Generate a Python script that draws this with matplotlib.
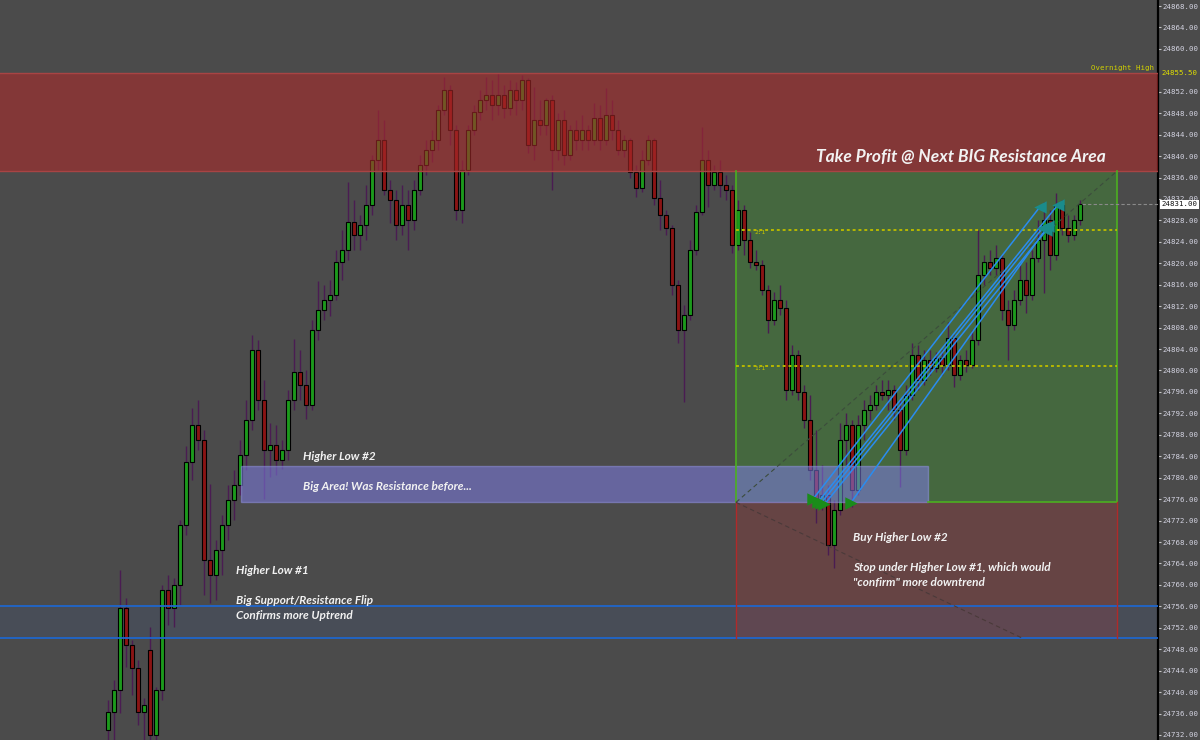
import matplotlib
matplotlib.use("Agg")
import matplotlib.pyplot as plt
from matplotlib.patches import Rectangle
import matplotlib.transforms as mtransforms

# ---------------- data ----------------
opens = [24732.9, 24736.3, 24740.4, 24755.7, 24748.8, 24744.5, 24736.3, 24747.8, 24732.0, 24740.4,
         24759.0, 24755.7, 24760.0, 24771.1, 24782.9, 24789.8, 24787.0, 24764.6, 24761.8, 24766.5,
         24771.1, 24775.8, 24778.6, 24784.2, 24790.7, 24803.8, 24794.5, 24785.1, 24786.1, 24783.3,
         24785.1, 24794.5, 24799.7, 24797.3, 24793.5, 24807.5, 24811.3, 24813.1, 24814.0, 24820.2,
         24822.5, 24827.7, 24825.3, 24827.1, 24830.9, 24839.2, 24843.0, 24833.7, 24831.8, 24827.1,
         24830.9, 24828.1, 24833.7, 24838.3, 24841.1, 24843.0, 24848.6, 24852.3, 24844.8, 24829.9,
         24837.4, 24844.8, 24848.2, 24850.4, 24851.4, 24849.5, 24851.4, 24849.0, 24852.3, 24850.4,
         24854.2, 24842.0, 24846.7, 24845.8, 24850.4, 24841.1, 24846.7, 24840.2, 24844.8, 24843.0,
         24844.8, 24843.0, 24847.1, 24843.0, 24847.6, 24844.8, 24841.1, 24843.0, 24837.0, 24834.0,
         24839.2, 24843.0, 24832.1, 24829.0, 24826.6, 24815.9, 24807.5, 24810.3, 24822.5, 24829.5,
         24839.2, 24834.6, 24837.0, 24834.6, 24833.7, 24823.4, 24829.9, 24824.3, 24820.2, 24819.7,
         24815.0, 24809.4, 24813.1, 24811.6, 24796.3, 24802.9, 24795.9, 24790.7, 24781.4, 24775.8,
         24776.7, 24767.4, 24773.9, 24787.0, 24789.8, 24777.7, 24789.8, 24792.6, 24793.5, 24795.9,
         24795.4, 24796.3, 24792.6, 24785.1, 24795.4, 24802.9, 24798.2, 24801.9, 24800.4, 24802.3,
         24801.0, 24806.0, 24799.1, 24801.9, 24801.0, 24805.7, 24817.8, 24820.2, 24819.1, 24821.0,
         24811.3, 24808.5, 24813.1, 24816.9, 24814.0, 24821.0, 24824.3, 24828.1, 24821.5, 24830.9,
         24826.6, 24825.3, 24828.1]

highs = [24738.5, 24742.2, 24762.8, 24757.5, 24749.7, 24746.0, 24738.9, 24752.1, 24741.0, 24760.0,
         24761.8, 24761.3, 24772.1, 24785.9, 24793.0, 24794.5, 24788.9, 24778.8, 24768.4, 24773.0,
         24778.6, 24781.4, 24787.0, 24794.5, 24806.6, 24805.7, 24798.2, 24790.2, 24789.8, 24787.0,
         24796.3, 24805.9, 24803.8, 24800.1, 24809.4, 24816.7, 24815.9, 24816.9, 24822.5, 24826.2,
         24835.1, 24831.8, 24829.0, 24834.6, 24840.2, 24848.6, 24846.7, 24835.5, 24833.7, 24834.6,
         24833.7, 24835.5, 24840.2, 24843.0, 24844.8, 24849.5, 24854.7, 24853.2, 24845.8, 24839.2,
         24845.8, 24849.5, 24852.3, 24854.7, 24854.2, 24855.5, 24853.2, 24854.2, 24853.8, 24855.1,
         24854.5, 24852.9, 24850.4, 24850.8, 24851.4, 24848.0, 24848.6, 24845.8, 24846.7, 24847.6,
         24845.8, 24849.9, 24849.5, 24852.7, 24850.4, 24846.7, 24843.9, 24843.3, 24838.3, 24841.1,
         24843.9, 24843.3, 24835.5, 24829.9, 24827.1, 24816.9, 24812.2, 24824.3, 24830.9, 24845.4,
         24841.1, 24838.3, 24839.2, 24836.4, 24834.6, 24831.8, 24830.9, 24825.8, 24822.5, 24820.6,
         24815.9, 24814.6, 24815.9, 24813.1, 24804.7, 24803.8, 24797.3, 24795.4, 24788.9, 24782.3,
         24778.6, 24775.8, 24790.2, 24792.0, 24790.7, 24791.7, 24794.5, 24795.4, 24797.3, 24798.2,
         24798.2, 24797.3, 24794.5, 24797.3, 24805.1, 24804.7, 24803.8, 24803.8, 24803.4, 24803.8,
         24809.0, 24806.6, 24802.9, 24803.8, 24807.5, 24826.2, 24821.5, 24822.5, 24823.4, 24821.5,
         24813.1, 24815.0, 24819.7, 24820.2, 24822.5, 24828.1, 24831.4, 24829.9, 24833.1, 24831.8,
         24829.0, 24829.0, 24831.8]

lows = [24730.7, 24731.0, 24736.1, 24744.7, 24739.4, 24733.8, 24731.0, 24730.7, 24730.7, 24738.5,
        24752.5, 24752.1, 24756.2, 24769.3, 24779.5, 24785.1, 24758.1, 24756.6, 24757.2, 24761.8,
        24768.4, 24772.1, 24776.7, 24781.4, 24788.9, 24792.6, 24776.0, 24780.1, 24780.5, 24781.6,
        24783.3, 24792.6, 24794.5, 24790.9, 24792.6, 24805.7, 24809.4, 24810.1, 24813.1, 24816.9,
        24820.6, 24822.5, 24822.5, 24824.3, 24829.0, 24837.4, 24832.7, 24827.5, 24824.3, 24825.3,
        24822.5, 24826.2, 24832.7, 24836.4, 24838.9, 24841.1, 24847.6, 24842.0, 24828.1, 24827.5,
        24836.4, 24843.9, 24846.7, 24848.6, 24846.7, 24847.6, 24847.1, 24847.6, 24847.6, 24848.6,
        24840.6, 24839.2, 24843.9, 24843.9, 24833.7, 24839.2, 24838.3, 24839.2, 24841.1, 24841.1,
        24841.1, 24842.0, 24841.1, 24842.0, 24843.0, 24840.2, 24839.8, 24835.9, 24832.3, 24833.3,
        24838.3, 24830.9, 24826.2, 24825.3, 24814.0, 24805.1, 24794.1, 24809.4, 24821.5, 24829.0,
        24830.5, 24833.7, 24832.3, 24831.8, 24821.9, 24822.5, 24821.5, 24819.1, 24818.7, 24814.0,
        24807.0, 24808.5, 24810.3, 24794.5, 24795.4, 24794.5, 24789.3, 24779.5, 24771.5, 24773.9,
        24765.6, 24763.1, 24773.0, 24782.3, 24774.5, 24776.7, 24787.0, 24790.7, 24792.6, 24794.5,
        24792.6, 24790.7, 24778.2, 24784.2, 24794.5, 24796.3, 24797.3, 24799.1, 24799.7, 24799.1,
        24800.1, 24796.9, 24798.2, 24799.7, 24800.4, 24804.7, 24815.9, 24817.8, 24817.8, 24809.4,
        24801.9, 24807.5, 24812.2, 24810.7, 24813.1, 24820.2, 24814.4, 24818.7, 24820.6, 24825.3,
        24824.0, 24824.3, 24827.1]

closes = [24736.3, 24740.4, 24755.7, 24748.8, 24744.5, 24736.3, 24737.6, 24732.0, 24740.4, 24759.0,
          24755.7, 24760.0, 24771.1, 24782.9, 24789.8, 24787.0, 24764.6, 24761.8, 24766.5, 24771.1,
          24775.8, 24778.6, 24784.2, 24790.7, 24803.8, 24794.5, 24785.1, 24786.1, 24783.3, 24785.1,
          24794.5, 24799.7, 24797.3, 24793.5, 24807.5, 24811.3, 24813.1, 24814.0, 24820.2, 24822.5,
          24827.7, 24825.3, 24827.1, 24830.9, 24839.2, 24843.0, 24833.7, 24831.8, 24827.1, 24830.9,
          24828.1, 24833.7, 24838.3, 24841.1, 24843.0, 24848.6, 24852.3, 24844.8, 24829.9, 24837.4,
          24844.8, 24848.2, 24850.4, 24851.4, 24849.5, 24851.4, 24849.0, 24852.3, 24850.4, 24854.2,
          24842.0, 24846.7, 24845.8, 24850.4, 24841.1, 24846.7, 24840.2, 24844.8, 24843.0, 24844.8,
          24843.0, 24847.1, 24843.0, 24847.6, 24844.8, 24841.1, 24843.0, 24837.0, 24834.0, 24839.2,
          24843.0, 24832.1, 24829.0, 24826.6, 24815.9, 24807.5, 24810.3, 24822.5, 24829.5, 24839.2,
          24834.6, 24837.0, 24834.6, 24833.7, 24823.4, 24829.9, 24824.3, 24820.2, 24819.7, 24815.0,
          24809.4, 24813.1, 24811.6, 24796.3, 24802.9, 24795.9, 24790.7, 24781.4, 24775.8, 24776.7,
          24767.4, 24773.9, 24787.0, 24789.8, 24777.7, 24789.8, 24792.6, 24793.5, 24795.9, 24795.4,
          24796.3, 24792.6, 24785.1, 24795.4, 24802.9, 24798.2, 24801.9, 24800.4, 24802.3, 24801.0,
          24806.0, 24799.1, 24801.9, 24801.0, 24805.7, 24817.8, 24820.2, 24819.1, 24821.0, 24811.3,
          24808.5, 24813.1, 24816.9, 24814.0, 24821.0, 24824.3, 24828.1, 24821.5, 24830.9, 24826.6,
          24825.3, 24828.1, 24831.0]

# key price levels
overnight_high = 24855.50
resistance_low = 24837.2
flip_top = 24756.0
flip_bottom = 24750.0
area_top = 24782.2
area_bottom = 24775.4
entry_price = 24775.4
stop_price = 24750.0
target_price = 24837.2
last_price = 24831.00

# trades (bar index / price)
trade_entry_bar = [117.5, 118.3, 118.8, 119.4, 123.8]
trade_entry_price = [24776.0, 24775.4, 24775.2, 24775.0, 24775.3]
trade_exit_bar = [155.3, 158.3, 155.8, 156.4, 156.7]
trade_exit_price = [24830.5, 24830.9, 24826.6, 24826.2, 24827.0]

# price axis ticks
tick_start, tick_end, tick_step = 24732, 24868, 4

# ---------------- style ----------------
BG = '#4b4b4b'
UP = '#1c9a1c'
DOWN = '#8a1414'
WICK = '#4a1c52'
AXFS = 5.3

fig = plt.figure(figsize=(12, 7.4), dpi=100)
fig.patch.set_facecolor(BG)
ax = fig.add_axes([0, 0, 1158 / 1200, 1])
ax.set_facecolor(BG)

n = len(closes)
assert len(opens) == len(highs) == len(lows) == n
x_left, x_right = -18, 175
ax.set_xlim(x_left, x_right)
ax.set_ylim(24731.06, 24869.12)

box_left, box_right = 104.67, 168.17
area_left = 22.17
area_right = 136.67

# ---- trade box (target / stop) ----
ax.add_patch(Rectangle((box_left, entry_price), box_right - box_left, target_price - entry_price,
                       facecolor='#45683f', edgecolor='none', zorder=1))
ax.add_patch(Rectangle((box_left, stop_price), box_right - box_left, entry_price - stop_price,
                       facecolor='#664444', edgecolor='none', zorder=1))

# ---- support / resistance flip band ----
ax.axhspan(flip_bottom, flip_top, facecolor=(60/255, 90/255, 160/255), alpha=0.15, zorder=2, lw=0)

# ---- candles ----
for i in range(n):
    o, h, l, c = opens[i], highs[i], lows[i], closes[i]
    ax.plot([i, i], [l, h], color=WICK, lw=1.0, zorder=3, solid_capstyle='butt')
    up = c >= o
    bottom = min(o, c)
    height = max(abs(c - o), 0.35)
    ax.add_patch(Rectangle((i - 0.32, bottom), 0.64, height,
                           facecolor=UP if up else DOWN, edgecolor='black', lw=0.8, zorder=3.1))

# ---- resistance band ----
ax.axhspan(resistance_low, overnight_high, facecolor=(170/255, 42/255, 42/255), alpha=0.6, zorder=4, lw=0)
ax.axhline(overnight_high, color='#a84444', lw=1.0, zorder=4.1)
ax.axhline(resistance_low, color='#a84444', lw=1.0, zorder=4.1)

# ---- "big area" box ----
ax.add_patch(Rectangle((area_left, area_bottom), area_right - area_left, area_top - area_bottom,
                       facecolor=(126/255, 123/255, 228/255), alpha=0.55,
                       edgecolor='#9090e0', lw=1.0, zorder=4.2))

# ---- flip band lines ----
ax.axhline(flip_top, color='#1f66cc', lw=1.3, zorder=4.5)
ax.axhline(flip_bottom, color='#1f66cc', lw=1.3, zorder=4.5)

# ---- trade box borders ----
ax.plot([box_left, box_left], [entry_price, target_price], color='#4cb020', lw=1.2, zorder=4.6)
ax.plot([box_right, box_right], [entry_price, target_price], color='#4cb020', lw=1.2, zorder=4.6)
ax.plot([area_right, box_right], [entry_price, entry_price], color='#4cb020', lw=1.2, zorder=4.6)
ax.plot([box_left, box_left], [stop_price, entry_price], color='#b02a2a', lw=1.0, zorder=4.6)
ax.plot([box_right, box_right], [stop_price, entry_price], color='#b02a2a', lw=1.0, zorder=4.6)

# R-multiple levels
risk = entry_price - stop_price
for k, lab in [(1, '1:1'), (2, '2:1')]:
    lvl = entry_price + k * risk
    ax.plot([box_left, box_right], [lvl, lvl], color='#b8b800', lw=1.4,
            linestyle=(0, (1.5, 1.5)), zorder=4.7)
    ax.text(box_left + 3.0, lvl - 0.4, lab, color='#c8c800', fontsize=4.5,
            family='DejaVu Sans Mono', va='center', ha='left', zorder=4.8)

# diagonal guide lines
ax.plot([box_left, box_right], [entry_price, target_price], color='#3c4c3c', lw=0.8,
        linestyle=(0, (4, 3)), zorder=4.6)
ax.plot([box_left, 152.5], [entry_price, stop_price], color='#4a3a3a', lw=0.8,
        linestyle=(0, (4, 3)), zorder=4.6)

# current price line
ax.plot([162.3, x_right], [last_price, last_price], color='#8a8a8a', lw=0.8,
        linestyle=(0, (3, 2)), zorder=4.6)

# ---- trades ----
for eb, ep, xb, xp in zip(trade_entry_bar, trade_entry_price, trade_exit_bar, trade_exit_price):
    ax.plot([eb, xb], [ep, xp], color='#2a8cf0', lw=1.1, zorder=5)
ax.scatter(trade_entry_bar, trade_entry_price, marker='>', s=80, color='#1a8c1a', zorder=5.2, lw=0)
ax.scatter(trade_exit_bar, trade_exit_price, marker='<', s=80, color='#1a8c8c', zorder=5.2, lw=0)

# ---- annotations ----
tfont = dict(family=['Lato', 'DejaVu Sans'], weight='bold', style='italic', color='#f2f2f2',
             va='center', ha='left', zorder=6)
ax.text(32.5, 24784.0, 'Higher Low #2', fontsize=8.5, **tfont)
ax.text(32.5, 24778.4, 'Big Area! Was Resistance before...', fontsize=8.5, **tfont)
ax.text(21.33, 24762.6, 'Higher Low #1', fontsize=8.5, **tfont)
ax.text(21.33, 24757.0, 'Big Support/Resistance Flip', fontsize=8.5, **tfont)
ax.text(21.33, 24754.2, 'Confirms more Uptrend', fontsize=8.5, **tfont)
ax.text(124.17, 24768.9, 'Buy Higher Low #2', fontsize=8.5, **tfont)
ax.text(124.17, 24763.3, 'Stop under Higher Low #1, which would', fontsize=8.5, **tfont)
ax.text(124.17, 24760.5, '"confirm" more downtrend', fontsize=8.5, **tfont)
ax.text(118.0, 24839.8, 'Take Profit @ Next BIG Resistance Area', fontsize=12.5, **tfont)

ax.text(174.3, overnight_high + 0.3, 'Overnight High', color='#d2d200', fontsize=AXFS,
        family='DejaVu Sans Mono', ha='right', va='bottom', zorder=6)

# ---- price axis ----
ticks = [t for t in range(tick_start, tick_end + 1, tick_step) if abs(t - overnight_high) > 1]
ax.set_yticks(ticks)
ax.set_yticklabels([f'{t:.2f}' for t in ticks])
ax.yaxis.tick_right()
ax.tick_params(axis='y', direction='out', length=2.0, width=0.8, color='#c8c8c8', pad=1.0,
               labelsize=AXFS, labelcolor='#d4d4e2')
for lab in ax.get_yticklabels():
    lab.set_family('DejaVu Sans Mono')
ax.set_xticks([])
for s in ['top', 'left', 'bottom']:
    ax.spines[s].set_visible(False)
ax.spines['right'].set_color('black')
ax.spines['right'].set_linewidth(1.6)

trans = mtransforms.blended_transform_factory(ax.transAxes, ax.transData)
ax.text(1.0028, overnight_high, f'{overnight_high:.2f}', transform=trans, color='#e0e000',
        fontsize=AXFS, family='DejaVu Sans Mono', ha='left', va='center', clip_on=False, zorder=10)
ax.text(1.0028, last_price, f'{last_price:.2f}', transform=trans, color='#111111',
        fontsize=AXFS, family='DejaVu Sans Mono', ha='left', va='center', clip_on=False, zorder=10,
        bbox=dict(facecolor='white', edgecolor='none', pad=1.0))

fig.savefig('out.png', dpi=100, facecolor=BG)
